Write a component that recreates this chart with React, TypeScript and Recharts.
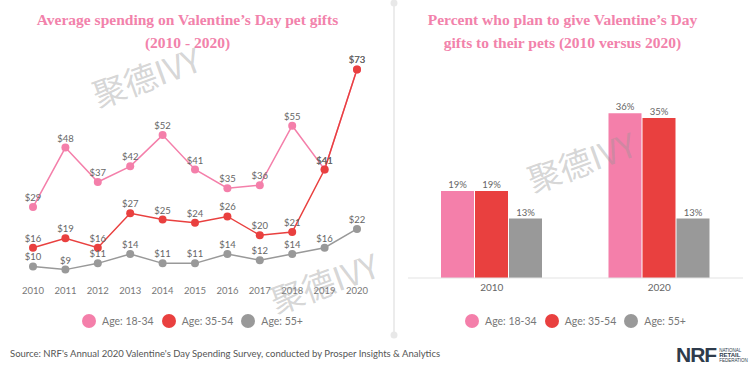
import * as React from "react";
import { LineChart, Line, BarChart, Bar, XAxis, YAxis, Legend, LabelList } from "recharts";

const years = ["2010", "2011", "2012", "2013", "2014", "2015", "2016", "2017", "2018", "2019", "2020"];
const age1834 = [29, 48, 37, 42, 52, 41, 35, 36, 55, 41, 73];
const age3554 = [16, 19, 16, 27, 25, 24, 26, 20, 21, 41, 73];
const age55 = [10, 9, 11, 14, 11, 11, 14, 12, 14, 16, 22];

const barYears = ["2010", "2020"];
const pct1834 = [19, 36];
const pct3554 = [19, 35];
const pct55 = [13, 13];

const PINK = "#f47faa";
const RED = "#e9403f";
const GRAY = "#999999";
const TITLE = "#f282ab";
const SANS = "Lato, 'Open Sans', sans-serif";

const lineData = years.map((y, i) => ({ year: y, a: age1834[i], b: age3554[i], c: age55[i] }));
const barData = barYears.map((y, i) => ({ year: y, a: pct1834[i], b: pct3554[i], c: pct55[i] }));

// compact legend, spacing
function LegendRow(props: any) {
  const items = props.payload || [];
  return (
    <div style={{ display: "flex", justifyContent: "center", alignItems: "center", gap: 8 }}>
      {items.map((it: any) => (
        <div key={it.value} style={{ display: "flex", alignItems: "center", gap: 6 }}>
          <span style={{ width: 14, height: 14, borderRadius: 7, background: it.color, display: "inline-block" }} />
          <span style={{ color: "#777", fontSize: 10.5, fontFamily: SANS }}>{it.value}</span>
        </div>
      ))}
    </div>
  );
}

function Title({ lines, left }: { lines: string[]; left: number }) {
  return (
    <div style={{ position: "absolute", left, top: 8, width: 375, textAlign: "center", color: TITLE,
      fontFamily: "'Liberation Serif', serif", fontWeight: 700, fontSize: 15.5, lineHeight: "23px" }}>
      {lines.map((l) => <div key={l}>{l}</div>)}
    </div>
  );
}

function Watermark({ x, y }: { x: number; y: number }) {
  return (
    <div style={{ position: "absolute", left: x, top: y, fontFamily: "'Noto Sans CJK SC', sans-serif", fontSize: 33,
      color: "rgba(150,150,150,0.4)", transform: "rotate(-20deg)", pointerEvents: "none", whiteSpace: "nowrap" }}>
      聚德IVY
    </div>
  );
}

export default function App() {
  const dollar = (v: any) => `$${v}`;
  const pct = (v: any) => `${v}%`;
  const lbl = { fontSize: 9.5, fill: "#666", fontFamily: SANS };
  return (
    <div style={{ position: "absolute", left: 0, top: 0, width: 750, height: 370, background: "#fff", overflow: "hidden", fontFamily: SANS }}>
      <Title left={0} lines={["Average spending on Valentine\u2019s Day pet gifts", "(2010 - 2020)"]} />
      <Title left={375} lines={["Percent who plan to give Valentine\u2019s Day", "gifts to their pets (2010 versus 2020)"]} />

      <div style={{ position: "absolute", left: 0, top: 0 }}>
        <LineChart width={375} height={330} data={lineData} margin={{ top: 60, right: 18, left: 33, bottom: 21 }}>
          <XAxis dataKey="year" axisLine={false} tickLine={false} interval={0}
            tick={{ fontSize: 9.5, fill: "#777", fontFamily: SANS }} />
          <YAxis hide domain={[6, 76]} />
          <Legend layout="horizontal" verticalAlign="middle" align="center" content={LegendRow}
            wrapperStyle={{ top: 314, left: 10, width: 365 }} />
          <Line dataKey="a" name="Age: 18-34" stroke={PINK} strokeWidth={1.5} isAnimationActive={false}
            dot={{ r: 4, fill: PINK, stroke: PINK, strokeWidth: 0 }}>
            <LabelList dataKey="a" position="top" offset={6} formatter={dollar} style={lbl} />
          </Line>
          <Line dataKey="b" name="Age: 35-54" stroke={RED} strokeWidth={1.5} isAnimationActive={false}
            dot={{ r: 4, fill: RED, stroke: RED, strokeWidth: 0 }}>
            <LabelList dataKey="b" position="top" offset={6} formatter={dollar} style={lbl} />
          </Line>
          <Line dataKey="c" name="Age: 55+" stroke={GRAY} strokeWidth={1.5} isAnimationActive={false}
            dot={{ r: 4, fill: GRAY, stroke: GRAY, strokeWidth: 0 }}>
            <LabelList dataKey="c" position="top" offset={6} formatter={dollar} style={lbl} />
          </Line>
        </LineChart>
      </div>

      <div style={{ position: "absolute", left: 375, top: 0 }}>
        <BarChart width={375} height={330} data={barData} margin={{ top: 95, right: 7, left: 33, bottom: 22 }}
          barSize={33} barGap={1}>
          <XAxis dataKey="year" axisLine={{ stroke: "#e3e3e3" }} tickLine={false} tickMargin={0}
            tick={{ fontSize: 10, fill: "#666", fontFamily: SANS }} />
          <YAxis hide domain={[0, 40]} />
          <Legend layout="horizontal" verticalAlign="middle" align="center" content={LegendRow}
            wrapperStyle={{ top: 314, left: 33, width: 335 }} />
          <Bar dataKey="a" name="Age: 18-34" fill={PINK} isAnimationActive={false}>
            <LabelList dataKey="a" position="top" offset={3} formatter={pct} style={lbl} />
          </Bar>
          <Bar dataKey="b" name="Age: 35-54" fill={RED} isAnimationActive={false}>
            <LabelList dataKey="b" position="top" offset={3} formatter={pct} style={lbl} />
          </Bar>
          <Bar dataKey="c" name="Age: 55+" fill={GRAY} isAnimationActive={false}>
            <LabelList dataKey="c" position="top" offset={3} formatter={pct} style={lbl} />
          </Bar>
        </BarChart>
      </div>

      <svg width={12} height={345} style={{ position: "absolute", left: 388, top: 0 }}>
        <line x1={6} y1={2} x2={6} y2={335} stroke="#ececec" strokeWidth={2} />
        <circle cx={6} cy={3} r={3.5} fill="#e8e8e8" />
        <circle cx={6} cy={335} r={3.5} fill="#e8e8e8" />
      </svg>

      <div style={{ position: "absolute", left: 10, top: 348, fontSize: 9.5, color: "#555", whiteSpace: "nowrap" }}>
        Source: NRF's Annual 2020 Valentine's Day Spending Survey, conducted by Prosper Insights &amp; Analytics
      </div>
      <div style={{ position: "absolute", left: 676, top: 343, display: "flex", alignItems: "center", color: "#2e3b4b" }}>
        <span style={{ fontFamily: "'Liberation Sans', sans-serif", fontWeight: 900, fontSize: 21, letterSpacing: -1 }}>NRF</span>
        <span style={{ fontSize: 4.5, lineHeight: "5px", marginLeft: 3, fontFamily: "'Liberation Sans', sans-serif" }}>
          NATIONAL<br /><b style={{ fontSize: 6 }}>RETAIL</b><br />FEDERATION
        </span>
      </div>

      <Watermark x={90} y={52} />
      <Watermark x={525} y={137} />
      <Watermark x={268} y={258} />
    </div>
  );
}
